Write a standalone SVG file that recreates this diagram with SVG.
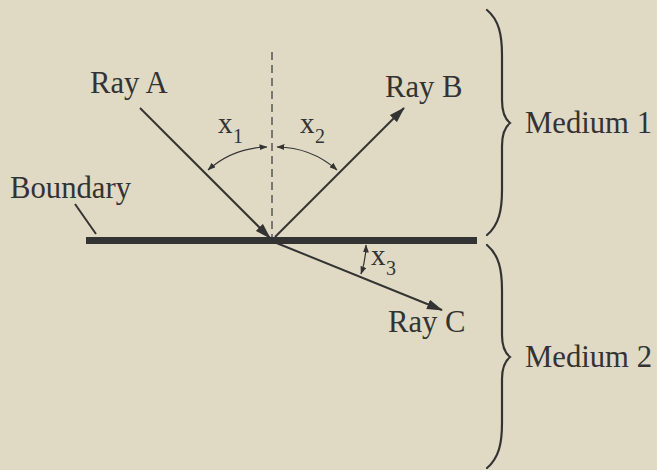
<svg xmlns="http://www.w3.org/2000/svg" width="657" height="470" viewBox="0 0 657 470">
<defs>
<style>
.t{font-family:"Liberation Serif","Times New Roman",serif;font-size:30.7px;fill:#333}
.x{font-family:"Liberation Serif","Times New Roman",serif;font-size:29px;fill:#333}
.s{font-family:"Liberation Serif","Times New Roman",serif;font-size:20px;fill:#333}
.ln{stroke:#333;stroke-width:2;fill:none}
.thin{stroke:#333;stroke-width:1.2;fill:none}
.brace{stroke:#333;stroke-width:2.2;fill:none;stroke-linecap:round}
</style>
<marker id="big" viewBox="0 0 16 10" refX="15" refY="5" markerWidth="16" markerHeight="10" markerUnits="userSpaceOnUse" orient="auto">
<path d="M0,0 L16,5 L0,10 Z" fill="#333"/>
</marker>
<marker id="small" viewBox="0 0 8 6" refX="7.5" refY="3" markerWidth="8" markerHeight="6" markerUnits="userSpaceOnUse" orient="auto-start-reverse">
<path d="M0,0 L8,3 L0,6 Z" fill="#333"/>
</marker>
</defs>
<rect width="657" height="470" fill="#e0dac5"/>
<g id="normal">
<line x1="272" y1="52" x2="272" y2="238" stroke="#555" stroke-width="1.5" stroke-dasharray="8 5"/>
</g>
<g id="boundary">
<rect x="86" y="237" width="391" height="7" fill="#333"/>
<text class="t" x="10" y="198">Boundary</text>
</g>
<g id="medium1">
<path class="brace" d="M487,10 C499,20 502,35 502,55 L502,100 C502,112 505,119 510,123 C505,127 502,134 502,146 L502,190 C502,210 499,225 487,235"/>
<text class="t" x="525" y="133">Medium 1</text>
</g>
<g id="medium2">
<path class="brace" d="M487,245 C499,255 502,270 502,290 L502,335 C502,347 505,353 510,357 C505,361 502,367 502,379 L502,423 C502,443 499,458 487,468"/>
<text class="t" x="525" y="367">Medium 2</text>
</g>
<g id="rayA"><text class="t" x="90" y="93">Ray A</text></g>
<g id="rayB"><text class="t" x="385" y="97">Ray B</text></g>
<g id="rayC"><text class="t" x="388" y="332">Ray C</text></g>
<g id="angle1"><text class="x" x="218" y="133">x</text><text class="s" x="233" y="143">1</text></g>
<g id="angle2"><text class="x" x="300" y="133">x</text><text class="s" x="315" y="143">2</text></g>
<g id="angle3"><text class="x" x="371" y="265">x</text><text class="s" x="386" y="275">3</text></g>
<g id="connectors">
<line class="ln" x1="140" y1="108" x2="270" y2="238" marker-end="url(#big)"/>
<line class="ln" x1="275" y1="237" x2="404" y2="108" marker-end="url(#big)"/>
<line class="ln" x1="274" y1="242" x2="442" y2="310" marker-end="url(#big)"/>
<line class="ln" x1="75" y1="204" x2="96" y2="234"/>
<path class="thin" d="M208,170 A92,92 0 0 1 267,147" marker-start="url(#small)" marker-end="url(#small)"/>
<path class="thin" d="M277,147 A92,92 0 0 1 337,170" marker-start="url(#small)" marker-end="url(#small)"/>
<path class="thin" d="M366,245 A94,94 0 0 1 361,274" marker-start="url(#small)" marker-end="url(#small)"/>
</g>
</svg>
